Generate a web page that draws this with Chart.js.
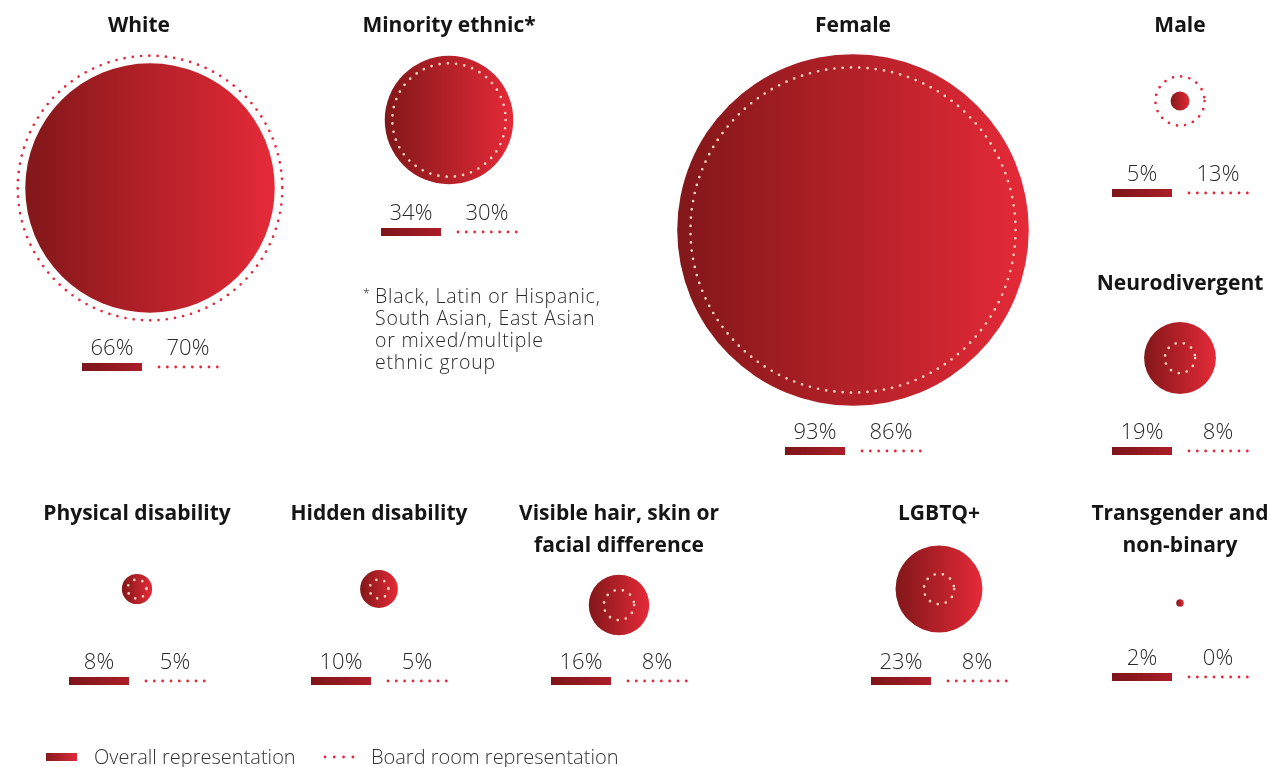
<!DOCTYPE html>
<html>
<head>
<meta charset="utf-8">
<script src="https://cdn.jsdelivr.net/npm/chart.js@4"></script>
<style>
  html, body { margin: 0; padding: 0; background: #fff; }
  #wrap { width: 1271px; height: 767px; }
</style>
</head>
<body>
<div id="wrap"><canvas id="diversity" width="1271" height="767"></canvas></div>
<script>
// ---- data ----
var categories = ['White', 'Minority ethnic*', 'Female', 'Male', 'Neurodivergent',
  'Physical disability', 'Hidden disability', 'Visible hair, skin or facial difference',
  'LGBTQ+', 'Transgender and non-binary'];
var overall = [66, 34, 93, 5, 19, 8, 10, 16, 23, 2];
var boardroom = [70, 30, 86, 13, 8, 5, 5, 8, 8, 0];
var footnote = ['Black, Latin or Hispanic,', 'South Asian, East Asian', 'or mixed/multiple', 'ethnic group'];
var legendLabels = ['Overall representation', 'Board room representation'];

// ---- layout (pixel slots for each group) ----
var titleLines = [['White'], ['Minority ethnic*'], ['Female'], ['Male'], ['Neurodivergent'],
  ['Physical disability'], ['Hidden disability'], ['Visible hair, skin or', 'facial difference'],
  ['LGBTQ+'], ['Transgender and', 'non-binary']];
var slotX  = [150, 449, 853, 1180, 1180, 137, 379, 619, 939, 1180];
var slotY  = [188, 120, 230, 101, 358, 589, 589, 605, 589, 603];
var titleX = [139, 449, 853, 1180, 1180, 137, 379, 619, 939, 1180];
var titleY = [24, 24, 24, 24, 282, 512, 512, 512, 512, 512];
var labelY = [347, 212, 431, 173, 431, 661, 661, 661, 661, 657];
var pxPerPoint = 1.89;

var RED = '#e4283a';
var CREAM = '#f4d3bf';

function fillGradient(ctx, x0, x1, c0, c1) {
  var g = ctx.createLinearGradient(x0, 0, x1, 0);
  g.addColorStop(0, c0);
  g.addColorStop(1, c1);
  return g;
}

var overallData = overall.map(function(v, i) {
  return { x: slotX[i], y: slotY[i], r: v * pxPerPoint };
});
var boardData = boardroom.map(function(v, i) {
  return { x: slotX[i], y: slotY[i], r: v * pxPerPoint };
});

var dottedRing = {
  id: 'dottedRing',
  beforeDatasetDraw: function(chart, args) {
    if (args.index === 1) {
      chart.ctx.save();
      chart.ctx.setLineDash([0, 8.3]);
      chart.ctx.lineCap = 'round';
    }
  },
  afterDatasetDraw: function(chart, args) {
    if (args.index === 1) chart.ctx.restore();
  }
};

var annotations = {
  id: 'annotations',
  afterDraw: function(chart) {
    var ctx = chart.ctx;
    var sx = chart.scales.x;
    ctx.save();
    ctx.textAlign = 'center';
    ctx.textBaseline = 'middle';
    categories.forEach(function(cat, i) {
      // title
      ctx.fillStyle = '#151515';
      ctx.font = '700 21px "Open Sans"';
      titleLines[i].forEach(function(line, j) {
        ctx.fillText(line, titleX[i], titleY[i] + 2 + j * 32);
      });
      var cx = sx.getPixelForValue(slotX[i]);
      var ly = labelY[i];
      var lx = cx - 38, rx = cx + 38;
      ctx.fillStyle = '#2a2a2a';
      ctx.font = '300 22px "Open Sans"';
      ctx.fillText(overall[i] + '%', lx, ly + 2);
      ctx.fillText(boardroom[i] + '%', rx, ly + 2);
      // solid key bar
      ctx.fillStyle = fillGradient(ctx, lx - 30, lx + 30, '#7c151a', '#ab1e27');
      ctx.fillRect(lx - 30, ly + 16, 60, 8);
      // dotted key line
      ctx.fillStyle = RED;
      for (var d = 0; d < 8; d++) {
        ctx.beginPath();
        ctx.arc(rx - 29 + d * 8.33, ly + 20, 1.4, 0, Math.PI * 2);
        ctx.fill();
      }
    });

    // footnote
    ctx.textAlign = 'left';
    ctx.fillStyle = '#2a2a2a';
    ctx.font = '300 12px "Open Sans"';
    ctx.fillText('*', 363, 295);
    ctx.font = '300 19.5px "Open Sans"';
    ctx.letterSpacing = '0.8px';
    footnote.forEach(function(line, j) {
      ctx.fillText(line, 375, 297 + j * 22);
    });
    ctx.letterSpacing = '0px';

    // legend
    ctx.fillStyle = fillGradient(ctx, 46, 77, '#851a1e', '#e0283a');
    ctx.fillRect(46, 753, 31, 8);
    ctx.fillStyle = RED;
    for (var k = 0; k < 4; k++) {
      ctx.beginPath();
      ctx.arc(325 + k * 9.3, 757, 1.4, 0, Math.PI * 2);
      ctx.fill();
    }
    ctx.fillStyle = '#333';
    ctx.font = '300 20px "Open Sans"';
    ctx.fillText(legendLabels[0], 94, 758);
    ctx.fillText(legendLabels[1], 371, 758);
    ctx.restore();
  }
};

var chart = new Chart(document.getElementById('diversity'), {
  type: 'bubble',
  data: {
    datasets: [
      {
        label: legendLabels[0],
        data: overallData,
        order: 2,
        borderWidth: 0,
        backgroundColor: function(c) {
          if (!c.raw) return '#b0202a';
          var x = c.chart.scales.x ? c.chart.scales.x.getPixelForValue(c.raw.x) : NaN;
          if (!isFinite(x)) x = c.raw.x;
          var r = c.raw.r || 1;
          return fillGradient(c.chart.ctx, x - r, x + r, '#821719', '#e52a38');
        }
      },
      {
        label: legendLabels[1],
        data: boardData,
        order: 1,
        backgroundColor: 'rgba(0,0,0,0)',
        borderWidth: function(c) {
          return c.raw && c.raw.r > 0 ? 2.7 : 0;
        },
        borderColor: function(c) {
          if (!c.raw) return RED;
          return boardroom[c.dataIndex] > overall[c.dataIndex] ? RED : CREAM;
        }
      }
    ]
  },
  options: {
    responsive: false,
    animation: false,
    events: [],
    layout: { padding: 0, autoPadding: false },
    clip: false,
    plugins: { legend: { display: false }, tooltip: { enabled: false } },
    scales: {
      x: { type: 'linear', min: 0, max: 1271, display: false },
      y: { type: 'linear', min: 0, max: 767, reverse: true, display: false }
    }
  },
  plugins: [dottedRing, annotations]
});
</script>
</body>
</html>
